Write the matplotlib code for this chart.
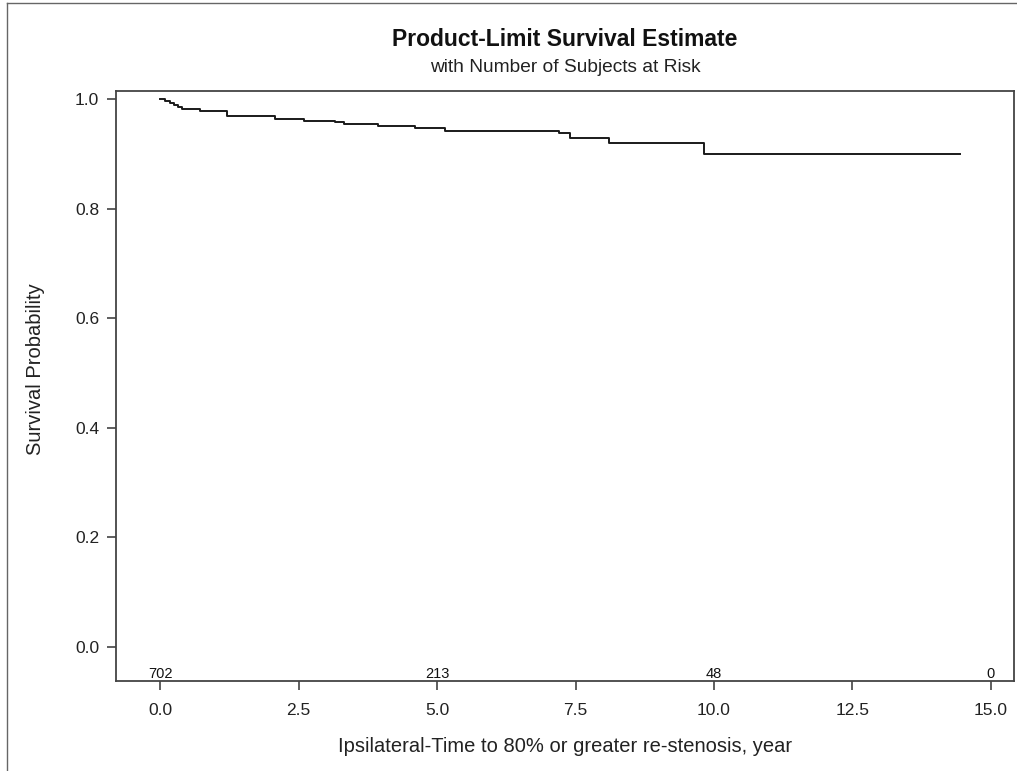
import matplotlib
matplotlib.use("Agg")
import matplotlib.pyplot as plt
from matplotlib.lines import Line2D

plt.rcParams["font.family"] = ["Liberation Sans", "DejaVu Sans"]

# Kaplan-Meier step points (time in years, survival)
event_times = [0.0, 0.09, 0.18, 0.24, 0.32, 0.40, 0.71, 1.21, 2.08, 2.59,
               3.15, 3.31, 3.93, 4.60, 5.14, 7.20, 7.40, 8.11, 9.82]
survival = [1.000, 0.997, 0.994, 0.990, 0.986, 0.982, 0.978, 0.969, 0.964, 0.960,
            0.958, 0.955, 0.952, 0.948, 0.943, 0.939, 0.929, 0.920, 0.900]
last_time = 14.44

risk_times = [0.0, 5.0, 10.0, 15.0]
risk_counts = [702, 213, 48, 0]

x_ticks = [0.0, 2.5, 5.0, 7.5, 10.0, 12.5, 15.0]
y_ticks = [0.0, 0.2, 0.4, 0.6, 0.8, 1.0]

W, H = 1017, 771
AX_L, AX_R, AX_T, AX_B = 116, 1014, 90.7, 681
fig = plt.figure(figsize=(W / 100, H / 100), dpi=100)
ax = fig.add_axes([AX_L / W, 1 - AX_B / H, (AX_R - AX_L) / W, (AX_B - AX_T) / H])

xs = event_times + [last_time]
ys = survival + [survival[-1]]
ax.step(xs, ys, where="post", color="#1a1a1a", linewidth=1.4)

for t, n in zip(risk_times, risk_counts):
    ax.text(t, -0.056, str(n), ha="center", va="baseline", fontsize=10.5, color="#111111")

ax.set_xlim(-0.80, 15.42)
ax.set_ylim(-0.062, 1.0157)
ax.set_xticks(x_ticks)
ax.set_xticklabels([f"{v:.1f}" for v in x_ticks])
ax.set_yticks(y_ticks)
ax.set_yticklabels([f"{v:.1f}" for v in y_ticks])
ax.tick_params(axis="both", labelsize=12.5, length=6.5, width=1.1, color="#333333",
               labelcolor="#222222")
ax.tick_params(axis="x", pad=9)
ax.tick_params(axis="y", pad=5.5)
for side in ax.spines.values():
    side.set_color("#444444")
    side.set_linewidth(1.3)

ax.set_xlabel("Ipsilateral-Time to 80% or greater re-stenosis, year", fontsize=14.5,
              color="#222222", va="baseline")
ax.xaxis.set_label_coords(0.5, (AX_B - 752) / (AX_B - AX_T))
ax.set_ylabel("Survival Probability", fontsize=14.5, color="#222222", va="center")
ax.yaxis.set_label_coords((36 - AX_L) / (AX_R - AX_L), (AX_B - 369) / (AX_B - AX_T))

cx = 0.5 * (AX_L + AX_R) / W
fig.text(cx, 1 - 45.7 / H, "Product-Limit Survival Estimate",
         ha="center", va="baseline", fontsize=16.5, fontweight="bold", color="#111111")
fig.text(cx, 1 - 71.5 / H, "with Number of Subjects at Risk",
         ha="center", va="baseline", fontsize=13.8, color="#222222")

# outer frame (top and left edges visible in the picture)
fig.add_artist(Line2D([7 / W, 7 / W], [0, 1 - 3 / H], transform=fig.transFigure,
                      color="#666666", linewidth=1))
fig.add_artist(Line2D([7 / W, 1], [1 - 3 / H, 1 - 3 / H], transform=fig.transFigure,
                      color="#666666", linewidth=1))

fig.savefig("out.png", dpi=100)
